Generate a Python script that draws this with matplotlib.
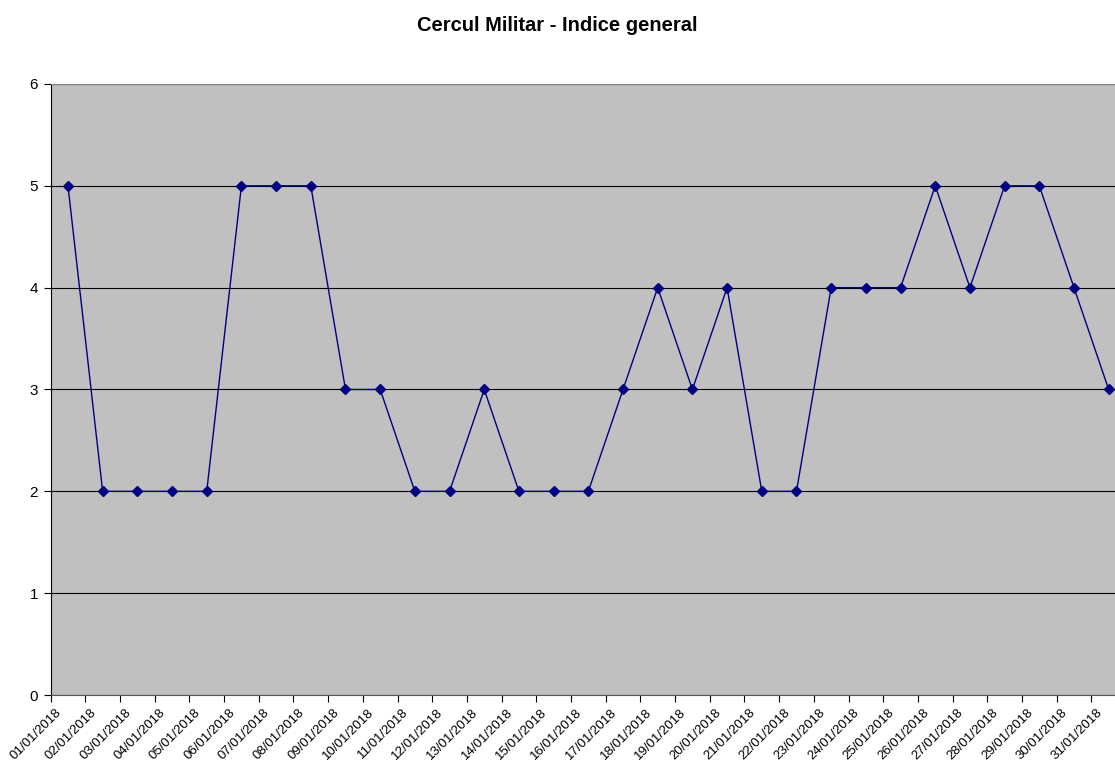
import matplotlib
matplotlib.use("Agg")
import matplotlib.pyplot as plt
import matplotlib.transforms as mtransforms
import numpy as np

plt.rcParams['font.family'] = ['Liberation Sans', 'DejaVu Sans']

dates = ["%02d/01/2018" % d for d in range(1, 32)]
values = [5, 2, 2, 2, 2, 5, 5, 5, 3, 3, 2, 2, 3, 2, 2, 2,
          3, 4, 3, 4, 2, 2, 4, 4, 4, 5, 4, 5, 5, 4, 3]

fig = plt.figure(figsize=(11.15, 7.62), dpi=100)
ax = fig.add_axes([0.0454, 0.0879, 0.9645, 0.8019])
ax.set_facecolor('#C0C0C0')

x = np.arange(len(dates))
ax.plot(x, values, color='#000080', linewidth=1, marker='D', markersize=5.5,
        markerfacecolor='#000080', markeredgecolor='#000080')

ax.set_xlim(-0.5, len(dates) - 0.5)
ax.set_ylim(0, 6)
ax.set_yticks(range(0, 7))
ax.yaxis.grid(True, color='black', linewidth=0.8)
ax.set_axisbelow(True)

# ticks between categories, labels centred on the categories
ax.set_xticks(np.arange(len(dates) + 1) - 0.5)
ax.set_xticklabels([])
ax.set_xticks(x, minor=True)
ax.set_xticklabels(dates, minor=True, rotation=45, ha='right', va='top', fontsize=9.5)
ax.tick_params(axis='x', which='minor', length=0, pad=8)
ax.tick_params(axis='x', which='major', length=5, color='black', direction='out')
ax.tick_params(axis='y', length=5, labelsize=11, pad=4)

shift = mtransforms.ScaledTranslation(-4 / 100, 0, fig.dpi_scale_trans)
for lbl in ax.get_xticklabels(minor=True):
    lbl.set_transform(lbl.get_transform() + shift)

ax.spines['top'].set_color('#808080')
ax.spines['right'].set_visible(False)
ax.spines['bottom'].set_color('#555555')
ax.spines['left'].set_color('black')

fig.text(0.4995, 0.966, 'Cercul Militar - Indice general', ha='center', va='center',
         fontsize=14.5, fontweight='bold')

fig.savefig('out.png', dpi=100)
